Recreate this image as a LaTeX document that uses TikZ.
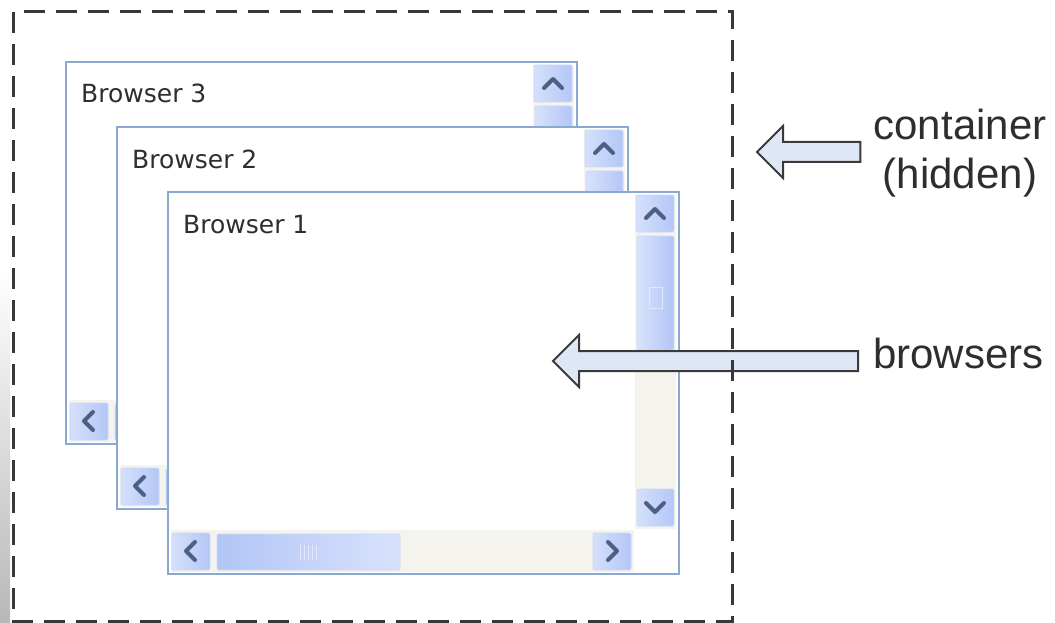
\documentclass[tikz,border=0pt]{standalone}
\usepackage{fontspec}
\setmainfont{Liberation Sans}
\newfontfamily\titlefont{DejaVu Sans}
\usetikzlibrary{calc}
\definecolor{WinBorder}{HTML}{89A9D0}
\definecolor{BtnLight}{HTML}{D5E0FC}
\definecolor{BtnDark}{HTML}{B3C6F6}
\definecolor{ThumbLight}{HTML}{D8E2FC}
\definecolor{ThumbDark}{HTML}{B2C5F6}
\definecolor{TrackBeige}{HTML}{F4F3EE}
\definecolor{ChevronBlue}{HTML}{4D5F85}
\definecolor{ArrowFill}{HTML}{DEE7F5}
\definecolor{ArrowLine}{HTML}{3A3A3A}
\definecolor{DashGray}{HTML}{383838}
\definecolor{TextGray}{HTML}{2E2E2E}

% one browser window, drawn from its top left corner
\newcommand{\browserwin}[3]{% name, corner, title
  \begin{scope}[shift={(#2)}]
    \node[window, anchor=north west] (#1) at (0,0) {};
    % scrollbar tracks
    \fill[TrackBeige] (467,3) rectangle (508,337);
    \fill[TrackBeige] (3,338) rectangle (466,380);
    % vertical bar
    \shadedraw[sbbtn] (468,3) rectangle (506,40);
    \draw[chevron] (478,26) -- (487,17) -- (496,26);
    \shadedraw[vthumb] (469,44) rectangle (506,158);
    \draw[grip] (481,95) rectangle (494,116);
    \shadedraw[sbbtn] (469,297) rectangle (506,334);
    \draw[chevron] (478,311) -- (487,320) -- (496,311);
    % horizontal bar
    \shadedraw[sbbtn] (4,341) rectangle (42,378);
    \draw[chevron] (27,350) -- (18,359) -- (27,368);
    \shadedraw[hthumb] (49,342) rectangle (232,378);
    \foreach \gx in {132,136,140,144,148}
      \draw[grip] (\gx,353) -- (\gx,368);
    \shadedraw[sbbtn] (425,341) rectangle (463,378);
    \draw[chevron] (440,350) -- (449,359) -- (440,368);
    % title
    \node[wintitle, anchor=base west] (#1title) at (15,41) {#3};
    \draw[frame] (#1.north west) rectangle (#1.south east);
  \end{scope}}

% hollow block arrow from tail to tip
\newcommand{\fatarrow}[2]{%
  \draw[blockarrow] (#2) -- ++(26,-26) -- ++(0,16) -- ($(#1)+(0,-10)$)
    -- ($(#1)+(0,10)$) -- ($(#2)+(26,10)$) -- ++(0,16) -- cycle;}

\begin{document}
\begin{tikzpicture}[x=1pt, y=-1pt,
  window/.style={rectangle, draw=WinBorder, fill=white, line width=2pt,
    minimum width=511pt, minimum height=382pt, inner sep=0pt, outer sep=0pt},
  frame/.style={draw=WinBorder, line width=2pt},
  sbbtn/.style={left color=BtnLight, right color=BtnDark, draw=BtnDark!70!white,
    line width=0.8pt, rounded corners=2pt},
  vthumb/.style={left color=ThumbLight, right color=ThumbDark, draw=BtnDark!70!white,
    line width=0.8pt, rounded corners=2pt},
  hthumb/.style={left color=ThumbDark, right color=ThumbLight, draw=BtnDark!70!white,
    line width=0.8pt, rounded corners=2pt},
  chevron/.style={draw=ChevronBlue, line width=4pt, line cap=round, line join=round},
  grip/.style={draw=white!60!BtnDark, line width=1pt},
  wintitle/.style={font=\titlefont\fontsize{25}{29}\selectfont, text=TextGray, inner sep=0pt},
  sidelabel/.style={font=\fontsize{42}{50}\selectfont, text=TextGray, inner sep=0pt},
  blockarrow/.style={draw=ArrowLine, fill=ArrowFill, line width=2pt, line join=miter},
  container/.style={draw=DashGray, line width=3pt, dash pattern=on 21pt off 11pt}]

\useasboundingbox (0,0) rectangle (1055,623);

% faded edge on the left
\shade[top color=white, bottom color=black!28] (0,270) rectangle (10,623);

% the stacked browsers
\browserwin{win3}{66,62}{Browser 3}
\browserwin{win2}{117,127}{Browser 2}
\browserwin{win1}{168,192}{Browser 1}

% labels on the right
\node[sidelabel, anchor=base] (contlbl) at (960,140) {container};
\node[sidelabel, anchor=base] (hidlbl) at (960,189) {(hidden)};
\node[sidelabel, anchor=base west] (browlbl) at (873,368) {browsers};

% arrows
\coordinate (conttip) at (757,152);
\coordinate (browtip) at (553,361);
\coordinate (conttail) at ($(contlbl.west |- conttip)+(-13,0)$);
\coordinate (browtail) at ($(browlbl.west |- browtip)+(-15,0)$);
\fatarrow{conttail}{conttip}
\fatarrow{browtail}{browtip}

% hidden container
\draw[container] (13,12) rectangle (732,621);
\end{tikzpicture}
\end{document}
